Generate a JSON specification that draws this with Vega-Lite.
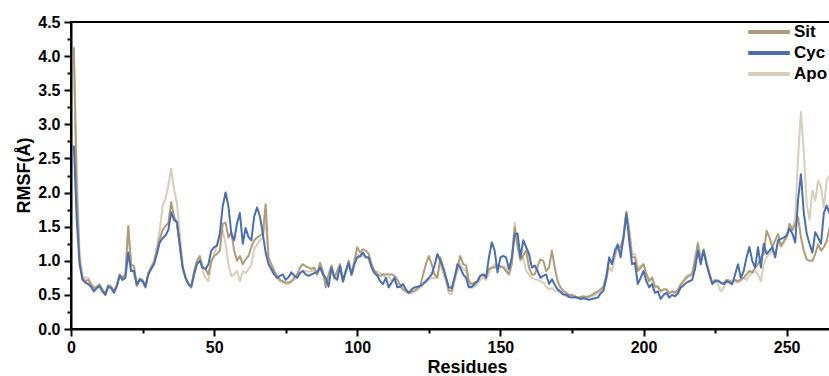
{"$schema":"https://vega.github.io/schema/vega-lite/v6.json","width":760,"height":307,"autosize":{"type":"none"},"padding":{"left":71,"top":22,"right":0,"bottom":47},"background":"white","config":{"view":{"stroke":"black","strokeWidth":2},"font":"Liberation Sans"},
"data":{"values":[
{"r":1,"s":"Apo","v":4.0},{"r":2,"s":"Apo","v":2.4},{"r":3,"s":"Apo","v":1.1},{"r":4,"s":"Apo","v":0.78},{"r":5,"s":"Apo","v":0.75},{"r":6,"s":"Apo","v":0.75},{"r":7,"s":"Apo","v":0.68},{"r":8,"s":"Apo","v":0.6},{"r":9,"s":"Apo","v":0.62},{"r":10,"s":"Apo","v":0.66},{"r":11,"s":"Apo","v":0.58},{"r":12,"s":"Apo","v":0.52},{"r":13,"s":"Apo","v":0.64},{"r":14,"s":"Apo","v":0.63},{"r":15,"s":"Apo","v":0.56},{"r":16,"s":"Apo","v":0.65},{"r":17,"s":"Apo","v":0.8},{"r":18,"s":"Apo","v":0.76},{"r":19,"s":"Apo","v":0.8},{"r":20,"s":"Apo","v":1.48},{"r":21,"s":"Apo","v":0.9},{"r":22,"s":"Apo","v":0.8},{"r":23,"s":"Apo","v":0.62},{"r":24,"s":"Apo","v":0.72},{"r":25,"s":"Apo","v":0.7},{"r":26,"s":"Apo","v":0.6},{"r":27,"s":"Apo","v":0.8},{"r":28,"s":"Apo","v":0.92},{"r":29,"s":"Apo","v":1.0},{"r":30,"s":"Apo","v":1.2},{"r":31,"s":"Apo","v":1.45},{"r":32,"s":"Apo","v":1.8},{"r":33,"s":"Apo","v":1.91},{"r":34,"s":"Apo","v":2.1},{"r":35,"s":"Apo","v":2.35},{"r":36,"s":"Apo","v":2.05},{"r":37,"s":"Apo","v":1.85},{"r":38,"s":"Apo","v":1.4},{"r":39,"s":"Apo","v":0.95},{"r":40,"s":"Apo","v":0.75},{"r":41,"s":"Apo","v":0.66},{"r":42,"s":"Apo","v":0.6},{"r":43,"s":"Apo","v":0.8},{"r":44,"s":"Apo","v":0.98},{"r":45,"s":"Apo","v":1.02},{"r":46,"s":"Apo","v":0.85},{"r":47,"s":"Apo","v":0.75},{"r":48,"s":"Apo","v":0.7},{"r":49,"s":"Apo","v":0.95},{"r":50,"s":"Apo","v":1.1},{"r":51,"s":"Apo","v":1.24},{"r":52,"s":"Apo","v":1.35},{"r":53,"s":"Apo","v":1.44},{"r":54,"s":"Apo","v":1.25},{"r":55,"s":"Apo","v":0.95},{"r":56,"s":"Apo","v":0.78},{"r":57,"s":"Apo","v":0.8},{"r":58,"s":"Apo","v":0.85},{"r":59,"s":"Apo","v":0.7},{"r":60,"s":"Apo","v":0.85},{"r":61,"s":"Apo","v":0.82},{"r":62,"s":"Apo","v":0.88},{"r":63,"s":"Apo","v":0.95},{"r":64,"s":"Apo","v":1.17},{"r":65,"s":"Apo","v":1.24},{"r":66,"s":"Apo","v":1.3},{"r":67,"s":"Apo","v":1.34},{"r":68,"s":"Apo","v":1.6},{"r":69,"s":"Apo","v":1.0},{"r":70,"s":"Apo","v":0.85},{"r":71,"s":"Apo","v":0.8},{"r":72,"s":"Apo","v":0.75},{"r":73,"s":"Apo","v":0.7},{"r":74,"s":"Apo","v":0.68},{"r":75,"s":"Apo","v":0.66},{"r":76,"s":"Apo","v":0.66},{"r":77,"s":"Apo","v":0.7},{"r":78,"s":"Apo","v":0.72},{"r":79,"s":"Apo","v":0.78},{"r":80,"s":"Apo","v":0.82},{"r":81,"s":"Apo","v":0.85},{"r":82,"s":"Apo","v":0.85},{"r":83,"s":"Apo","v":0.84},{"r":84,"s":"Apo","v":0.85},{"r":85,"s":"Apo","v":0.86},{"r":86,"s":"Apo","v":0.78},{"r":87,"s":"Apo","v":0.92},{"r":88,"s":"Apo","v":0.82},{"r":89,"s":"Apo","v":0.62},{"r":90,"s":"Apo","v":0.78},{"r":91,"s":"Apo","v":0.88},{"r":92,"s":"Apo","v":0.72},{"r":93,"s":"Apo","v":0.82},{"r":94,"s":"Apo","v":0.9},{"r":95,"s":"Apo","v":0.68},{"r":96,"s":"Apo","v":0.82},{"r":97,"s":"Apo","v":0.95},{"r":98,"s":"Apo","v":0.78},{"r":99,"s":"Apo","v":0.95},{"r":100,"s":"Apo","v":1.1},{"r":101,"s":"Apo","v":1.05},{"r":102,"s":"Apo","v":1.08},{"r":103,"s":"Apo","v":1.05},{"r":104,"s":"Apo","v":1.02},{"r":105,"s":"Apo","v":0.92},{"r":106,"s":"Apo","v":0.86},{"r":107,"s":"Apo","v":0.84},{"r":108,"s":"Apo","v":0.82},{"r":109,"s":"Apo","v":0.8},{"r":110,"s":"Apo","v":0.75},{"r":111,"s":"Apo","v":0.76},{"r":112,"s":"Apo","v":0.72},{"r":113,"s":"Apo","v":0.7},{"r":114,"s":"Apo","v":0.66},{"r":115,"s":"Apo","v":0.62},{"r":116,"s":"Apo","v":0.58},{"r":117,"s":"Apo","v":0.55},{"r":118,"s":"Apo","v":0.52},{"r":119,"s":"Apo","v":0.53},{"r":120,"s":"Apo","v":0.55},{"r":121,"s":"Apo","v":0.57},{"r":122,"s":"Apo","v":0.6},{"r":123,"s":"Apo","v":0.68},{"r":124,"s":"Apo","v":0.7},{"r":125,"s":"Apo","v":0.72},{"r":126,"s":"Apo","v":0.75},{"r":127,"s":"Apo","v":0.74},{"r":128,"s":"Apo","v":0.8},{"r":129,"s":"Apo","v":0.95},{"r":130,"s":"Apo","v":0.82},{"r":131,"s":"Apo","v":0.7},{"r":132,"s":"Apo","v":0.52},{"r":133,"s":"Apo","v":0.51},{"r":134,"s":"Apo","v":0.7},{"r":135,"s":"Apo","v":0.85},{"r":136,"s":"Apo","v":0.95},{"r":137,"s":"Apo","v":0.88},{"r":138,"s":"Apo","v":0.85},{"r":139,"s":"Apo","v":0.65},{"r":140,"s":"Apo","v":0.6},{"r":141,"s":"Apo","v":0.62},{"r":142,"s":"Apo","v":0.66},{"r":143,"s":"Apo","v":0.72},{"r":144,"s":"Apo","v":0.75},{"r":145,"s":"Apo","v":0.72},{"r":146,"s":"Apo","v":0.82},{"r":147,"s":"Apo","v":0.9},{"r":148,"s":"Apo","v":0.95},{"r":149,"s":"Apo","v":0.88},{"r":150,"s":"Apo","v":0.9},{"r":151,"s":"Apo","v":0.92},{"r":152,"s":"Apo","v":0.9},{"r":153,"s":"Apo","v":0.8},{"r":154,"s":"Apo","v":1.05},{"r":155,"s":"Apo","v":1.56},{"r":156,"s":"Apo","v":1.25},{"r":157,"s":"Apo","v":1.0},{"r":158,"s":"Apo","v":1.05},{"r":159,"s":"Apo","v":0.85},{"r":160,"s":"Apo","v":0.8},{"r":161,"s":"Apo","v":0.75},{"r":162,"s":"Apo","v":0.73},{"r":163,"s":"Apo","v":0.72},{"r":164,"s":"Apo","v":0.7},{"r":165,"s":"Apo","v":0.68},{"r":166,"s":"Apo","v":0.62},{"r":167,"s":"Apo","v":0.58},{"r":168,"s":"Apo","v":0.6},{"r":169,"s":"Apo","v":0.56},{"r":170,"s":"Apo","v":0.55},{"r":171,"s":"Apo","v":0.53},{"r":172,"s":"Apo","v":0.5},{"r":173,"s":"Apo","v":0.48},{"r":174,"s":"Apo","v":0.47},{"r":175,"s":"Apo","v":0.47},{"r":176,"s":"Apo","v":0.46},{"r":177,"s":"Apo","v":0.45},{"r":178,"s":"Apo","v":0.46},{"r":179,"s":"Apo","v":0.47},{"r":180,"s":"Apo","v":0.46},{"r":181,"s":"Apo","v":0.47},{"r":182,"s":"Apo","v":0.48},{"r":183,"s":"Apo","v":0.5},{"r":184,"s":"Apo","v":0.52},{"r":185,"s":"Apo","v":0.56},{"r":186,"s":"Apo","v":0.6},{"r":187,"s":"Apo","v":0.72},{"r":188,"s":"Apo","v":0.9},{"r":189,"s":"Apo","v":0.85},{"r":190,"s":"Apo","v":1.05},{"r":191,"s":"Apo","v":1.2},{"r":192,"s":"Apo","v":1.15},{"r":193,"s":"Apo","v":1.3},{"r":194,"s":"Apo","v":1.72},{"r":195,"s":"Apo","v":1.5},{"r":196,"s":"Apo","v":1.1},{"r":197,"s":"Apo","v":1.1},{"r":198,"s":"Apo","v":0.9},{"r":199,"s":"Apo","v":0.92},{"r":200,"s":"Apo","v":0.95},{"r":201,"s":"Apo","v":0.82},{"r":202,"s":"Apo","v":0.72},{"r":203,"s":"Apo","v":0.76},{"r":204,"s":"Apo","v":0.63},{"r":205,"s":"Apo","v":0.63},{"r":206,"s":"Apo","v":0.55},{"r":207,"s":"Apo","v":0.58},{"r":208,"s":"Apo","v":0.59},{"r":209,"s":"Apo","v":0.53},{"r":210,"s":"Apo","v":0.55},{"r":211,"s":"Apo","v":0.54},{"r":212,"s":"Apo","v":0.58},{"r":213,"s":"Apo","v":0.66},{"r":214,"s":"Apo","v":0.72},{"r":215,"s":"Apo","v":0.78},{"r":216,"s":"Apo","v":0.8},{"r":217,"s":"Apo","v":0.82},{"r":218,"s":"Apo","v":1.05},{"r":219,"s":"Apo","v":1.27},{"r":220,"s":"Apo","v":1.05},{"r":221,"s":"Apo","v":1.18},{"r":222,"s":"Apo","v":1.0},{"r":223,"s":"Apo","v":0.82},{"r":224,"s":"Apo","v":0.68},{"r":225,"s":"Apo","v":0.7},{"r":226,"s":"Apo","v":0.65},{"r":227,"s":"Apo","v":0.55},{"r":228,"s":"Apo","v":0.6},{"r":229,"s":"Apo","v":0.7},{"r":230,"s":"Apo","v":0.72},{"r":231,"s":"Apo","v":0.7},{"r":232,"s":"Apo","v":0.7},{"r":233,"s":"Apo","v":0.68},{"r":234,"s":"Apo","v":0.7},{"r":235,"s":"Apo","v":0.75},{"r":236,"s":"Apo","v":0.72},{"r":237,"s":"Apo","v":0.78},{"r":238,"s":"Apo","v":0.82},{"r":239,"s":"Apo","v":0.85},{"r":240,"s":"Apo","v":0.8},{"r":241,"s":"Apo","v":0.7},{"r":242,"s":"Apo","v":0.95},{"r":243,"s":"Apo","v":1.05},{"r":244,"s":"Apo","v":1.1},{"r":245,"s":"Apo","v":1.15},{"r":246,"s":"Apo","v":1.1},{"r":247,"s":"Apo","v":1.29},{"r":248,"s":"Apo","v":1.2},{"r":249,"s":"Apo","v":1.25},{"r":250,"s":"Apo","v":1.35},{"r":251,"s":"Apo","v":1.54},{"r":252,"s":"Apo","v":1.45},{"r":253,"s":"Apo","v":1.64},{"r":254,"s":"Apo","v":2.52},{"r":255,"s":"Apo","v":3.18},{"r":256,"s":"Apo","v":2.6},{"r":257,"s":"Apo","v":1.83},{"r":258,"s":"Apo","v":1.6},{"r":259,"s":"Apo","v":2.03},{"r":260,"s":"Apo","v":1.88},{"r":261,"s":"Apo","v":2.18},{"r":262,"s":"Apo","v":2.08},{"r":263,"s":"Apo","v":1.78},{"r":264,"s":"Apo","v":2.18},{"r":265,"s":"Apo","v":2.25},
{"r":1,"s":"Sit","v":4.13},{"r":2,"s":"Sit","v":2.0},{"r":3,"s":"Sit","v":1.0},{"r":4,"s":"Sit","v":0.75},{"r":5,"s":"Sit","v":0.7},{"r":6,"s":"Sit","v":0.72},{"r":7,"s":"Sit","v":0.65},{"r":8,"s":"Sit","v":0.6},{"r":9,"s":"Sit","v":0.62},{"r":10,"s":"Sit","v":0.65},{"r":11,"s":"Sit","v":0.57},{"r":12,"s":"Sit","v":0.52},{"r":13,"s":"Sit","v":0.64},{"r":14,"s":"Sit","v":0.62},{"r":15,"s":"Sit","v":0.55},{"r":16,"s":"Sit","v":0.64},{"r":17,"s":"Sit","v":0.8},{"r":18,"s":"Sit","v":0.75},{"r":19,"s":"Sit","v":0.8},{"r":20,"s":"Sit","v":1.51},{"r":21,"s":"Sit","v":0.95},{"r":22,"s":"Sit","v":0.92},{"r":23,"s":"Sit","v":0.64},{"r":24,"s":"Sit","v":0.74},{"r":25,"s":"Sit","v":0.72},{"r":26,"s":"Sit","v":0.62},{"r":27,"s":"Sit","v":0.82},{"r":28,"s":"Sit","v":0.9},{"r":29,"s":"Sit","v":0.98},{"r":30,"s":"Sit","v":1.15},{"r":31,"s":"Sit","v":1.32},{"r":32,"s":"Sit","v":1.45},{"r":33,"s":"Sit","v":1.51},{"r":34,"s":"Sit","v":1.55},{"r":35,"s":"Sit","v":1.86},{"r":36,"s":"Sit","v":1.65},{"r":37,"s":"Sit","v":1.55},{"r":38,"s":"Sit","v":1.2},{"r":39,"s":"Sit","v":0.9},{"r":40,"s":"Sit","v":0.75},{"r":41,"s":"Sit","v":0.66},{"r":42,"s":"Sit","v":0.62},{"r":43,"s":"Sit","v":0.85},{"r":44,"s":"Sit","v":1.0},{"r":45,"s":"Sit","v":1.07},{"r":46,"s":"Sit","v":0.9},{"r":47,"s":"Sit","v":0.88},{"r":48,"s":"Sit","v":0.8},{"r":49,"s":"Sit","v":1.0},{"r":50,"s":"Sit","v":1.07},{"r":51,"s":"Sit","v":1.1},{"r":52,"s":"Sit","v":1.15},{"r":53,"s":"Sit","v":1.54},{"r":54,"s":"Sit","v":1.56},{"r":55,"s":"Sit","v":1.34},{"r":56,"s":"Sit","v":1.42},{"r":57,"s":"Sit","v":1.15},{"r":58,"s":"Sit","v":1.0},{"r":59,"s":"Sit","v":1.07},{"r":60,"s":"Sit","v":0.95},{"r":61,"s":"Sit","v":1.02},{"r":62,"s":"Sit","v":1.07},{"r":63,"s":"Sit","v":1.2},{"r":64,"s":"Sit","v":1.3},{"r":65,"s":"Sit","v":1.34},{"r":66,"s":"Sit","v":1.37},{"r":67,"s":"Sit","v":1.4},{"r":68,"s":"Sit","v":1.83},{"r":69,"s":"Sit","v":1.05},{"r":70,"s":"Sit","v":0.95},{"r":71,"s":"Sit","v":0.85},{"r":72,"s":"Sit","v":0.78},{"r":73,"s":"Sit","v":0.72},{"r":74,"s":"Sit","v":0.7},{"r":75,"s":"Sit","v":0.68},{"r":76,"s":"Sit","v":0.68},{"r":77,"s":"Sit","v":0.7},{"r":78,"s":"Sit","v":0.75},{"r":79,"s":"Sit","v":0.8},{"r":80,"s":"Sit","v":0.9},{"r":81,"s":"Sit","v":0.95},{"r":82,"s":"Sit","v":0.92},{"r":83,"s":"Sit","v":0.9},{"r":84,"s":"Sit","v":0.88},{"r":85,"s":"Sit","v":0.9},{"r":86,"s":"Sit","v":0.8},{"r":87,"s":"Sit","v":0.97},{"r":88,"s":"Sit","v":0.85},{"r":89,"s":"Sit","v":0.61},{"r":90,"s":"Sit","v":0.8},{"r":91,"s":"Sit","v":0.93},{"r":92,"s":"Sit","v":0.75},{"r":93,"s":"Sit","v":0.85},{"r":94,"s":"Sit","v":0.95},{"r":95,"s":"Sit","v":0.7},{"r":96,"s":"Sit","v":0.85},{"r":97,"s":"Sit","v":1.0},{"r":98,"s":"Sit","v":0.8},{"r":99,"s":"Sit","v":1.0},{"r":100,"s":"Sit","v":1.2},{"r":101,"s":"Sit","v":1.12},{"r":102,"s":"Sit","v":1.17},{"r":103,"s":"Sit","v":1.15},{"r":104,"s":"Sit","v":1.1},{"r":105,"s":"Sit","v":0.95},{"r":106,"s":"Sit","v":0.85},{"r":107,"s":"Sit","v":0.8},{"r":108,"s":"Sit","v":0.78},{"r":109,"s":"Sit","v":0.8},{"r":110,"s":"Sit","v":0.8},{"r":111,"s":"Sit","v":0.8},{"r":112,"s":"Sit","v":0.8},{"r":113,"s":"Sit","v":0.78},{"r":114,"s":"Sit","v":0.72},{"r":115,"s":"Sit","v":0.65},{"r":116,"s":"Sit","v":0.58},{"r":117,"s":"Sit","v":0.55},{"r":118,"s":"Sit","v":0.53},{"r":119,"s":"Sit","v":0.55},{"r":120,"s":"Sit","v":0.56},{"r":121,"s":"Sit","v":0.6},{"r":122,"s":"Sit","v":0.63},{"r":123,"s":"Sit","v":0.8},{"r":124,"s":"Sit","v":0.95},{"r":125,"s":"Sit","v":1.07},{"r":126,"s":"Sit","v":0.95},{"r":127,"s":"Sit","v":0.8},{"r":128,"s":"Sit","v":0.75},{"r":129,"s":"Sit","v":1.05},{"r":130,"s":"Sit","v":0.9},{"r":131,"s":"Sit","v":0.75},{"r":132,"s":"Sit","v":0.56},{"r":133,"s":"Sit","v":0.56},{"r":134,"s":"Sit","v":0.75},{"r":135,"s":"Sit","v":0.9},{"r":136,"s":"Sit","v":1.07},{"r":137,"s":"Sit","v":0.95},{"r":138,"s":"Sit","v":0.93},{"r":139,"s":"Sit","v":0.7},{"r":140,"s":"Sit","v":0.66},{"r":141,"s":"Sit","v":0.68},{"r":142,"s":"Sit","v":0.7},{"r":143,"s":"Sit","v":0.78},{"r":144,"s":"Sit","v":0.8},{"r":145,"s":"Sit","v":0.78},{"r":146,"s":"Sit","v":0.88},{"r":147,"s":"Sit","v":0.9},{"r":148,"s":"Sit","v":0.9},{"r":149,"s":"Sit","v":0.93},{"r":150,"s":"Sit","v":0.92},{"r":151,"s":"Sit","v":0.9},{"r":152,"s":"Sit","v":0.85},{"r":153,"s":"Sit","v":0.8},{"r":154,"s":"Sit","v":0.95},{"r":155,"s":"Sit","v":1.49},{"r":156,"s":"Sit","v":1.2},{"r":157,"s":"Sit","v":1.02},{"r":158,"s":"Sit","v":1.08},{"r":159,"s":"Sit","v":1.15},{"r":160,"s":"Sit","v":0.9},{"r":161,"s":"Sit","v":0.8},{"r":162,"s":"Sit","v":0.8},{"r":163,"s":"Sit","v":0.92},{"r":164,"s":"Sit","v":1.02},{"r":165,"s":"Sit","v":1.0},{"r":166,"s":"Sit","v":0.85},{"r":167,"s":"Sit","v":0.9},{"r":168,"s":"Sit","v":1.15},{"r":169,"s":"Sit","v":0.9},{"r":170,"s":"Sit","v":0.7},{"r":171,"s":"Sit","v":0.61},{"r":172,"s":"Sit","v":0.56},{"r":173,"s":"Sit","v":0.53},{"r":174,"s":"Sit","v":0.5},{"r":175,"s":"Sit","v":0.5},{"r":176,"s":"Sit","v":0.48},{"r":177,"s":"Sit","v":0.46},{"r":178,"s":"Sit","v":0.47},{"r":179,"s":"Sit","v":0.48},{"r":180,"s":"Sit","v":0.47},{"r":181,"s":"Sit","v":0.48},{"r":182,"s":"Sit","v":0.5},{"r":183,"s":"Sit","v":0.53},{"r":184,"s":"Sit","v":0.55},{"r":185,"s":"Sit","v":0.58},{"r":186,"s":"Sit","v":0.62},{"r":187,"s":"Sit","v":0.78},{"r":188,"s":"Sit","v":1.0},{"r":189,"s":"Sit","v":0.98},{"r":190,"s":"Sit","v":1.1},{"r":191,"s":"Sit","v":1.22},{"r":192,"s":"Sit","v":1.2},{"r":193,"s":"Sit","v":1.35},{"r":194,"s":"Sit","v":1.72},{"r":195,"s":"Sit","v":1.4},{"r":196,"s":"Sit","v":1.05},{"r":197,"s":"Sit","v":1.05},{"r":198,"s":"Sit","v":0.85},{"r":199,"s":"Sit","v":0.9},{"r":200,"s":"Sit","v":0.95},{"r":201,"s":"Sit","v":0.8},{"r":202,"s":"Sit","v":0.7},{"r":203,"s":"Sit","v":0.75},{"r":204,"s":"Sit","v":0.62},{"r":205,"s":"Sit","v":0.62},{"r":206,"s":"Sit","v":0.55},{"r":207,"s":"Sit","v":0.58},{"r":208,"s":"Sit","v":0.58},{"r":209,"s":"Sit","v":0.52},{"r":210,"s":"Sit","v":0.55},{"r":211,"s":"Sit","v":0.53},{"r":212,"s":"Sit","v":0.57},{"r":213,"s":"Sit","v":0.65},{"r":214,"s":"Sit","v":0.7},{"r":215,"s":"Sit","v":0.75},{"r":216,"s":"Sit","v":0.78},{"r":217,"s":"Sit","v":0.8},{"r":218,"s":"Sit","v":1.0},{"r":219,"s":"Sit","v":1.25},{"r":220,"s":"Sit","v":1.0},{"r":221,"s":"Sit","v":1.15},{"r":222,"s":"Sit","v":0.97},{"r":223,"s":"Sit","v":0.82},{"r":224,"s":"Sit","v":0.68},{"r":225,"s":"Sit","v":0.72},{"r":226,"s":"Sit","v":0.7},{"r":227,"s":"Sit","v":0.68},{"r":228,"s":"Sit","v":0.66},{"r":229,"s":"Sit","v":0.72},{"r":230,"s":"Sit","v":0.7},{"r":231,"s":"Sit","v":0.68},{"r":232,"s":"Sit","v":0.72},{"r":233,"s":"Sit","v":0.7},{"r":234,"s":"Sit","v":0.73},{"r":235,"s":"Sit","v":0.75},{"r":236,"s":"Sit","v":0.8},{"r":237,"s":"Sit","v":0.85},{"r":238,"s":"Sit","v":0.83},{"r":239,"s":"Sit","v":0.9},{"r":240,"s":"Sit","v":0.95},{"r":241,"s":"Sit","v":1.05},{"r":242,"s":"Sit","v":1.1},{"r":243,"s":"Sit","v":1.44},{"r":244,"s":"Sit","v":1.34},{"r":245,"s":"Sit","v":1.2},{"r":246,"s":"Sit","v":1.3},{"r":247,"s":"Sit","v":1.39},{"r":248,"s":"Sit","v":1.22},{"r":249,"s":"Sit","v":1.29},{"r":250,"s":"Sit","v":1.35},{"r":251,"s":"Sit","v":1.54},{"r":252,"s":"Sit","v":1.45},{"r":253,"s":"Sit","v":1.54},{"r":254,"s":"Sit","v":1.64},{"r":255,"s":"Sit","v":1.34},{"r":256,"s":"Sit","v":1.15},{"r":257,"s":"Sit","v":1.02},{"r":258,"s":"Sit","v":1.0},{"r":259,"s":"Sit","v":1.0},{"r":260,"s":"Sit","v":1.1},{"r":261,"s":"Sit","v":1.24},{"r":262,"s":"Sit","v":1.15},{"r":263,"s":"Sit","v":1.2},{"r":264,"s":"Sit","v":1.29},{"r":265,"s":"Sit","v":1.49},
{"r":1,"s":"Cyc","v":2.69},{"r":2,"s":"Cyc","v":1.6},{"r":3,"s":"Cyc","v":0.95},{"r":4,"s":"Cyc","v":0.72},{"r":5,"s":"Cyc","v":0.68},{"r":6,"s":"Cyc","v":0.66},{"r":7,"s":"Cyc","v":0.62},{"r":8,"s":"Cyc","v":0.55},{"r":9,"s":"Cyc","v":0.6},{"r":10,"s":"Cyc","v":0.63},{"r":11,"s":"Cyc","v":0.55},{"r":12,"s":"Cyc","v":0.5},{"r":13,"s":"Cyc","v":0.62},{"r":14,"s":"Cyc","v":0.6},{"r":15,"s":"Cyc","v":0.53},{"r":16,"s":"Cyc","v":0.62},{"r":17,"s":"Cyc","v":0.78},{"r":18,"s":"Cyc","v":0.72},{"r":19,"s":"Cyc","v":0.75},{"r":20,"s":"Cyc","v":1.12},{"r":21,"s":"Cyc","v":0.85},{"r":22,"s":"Cyc","v":0.85},{"r":23,"s":"Cyc","v":0.65},{"r":24,"s":"Cyc","v":0.72},{"r":25,"s":"Cyc","v":0.7},{"r":26,"s":"Cyc","v":0.62},{"r":27,"s":"Cyc","v":0.8},{"r":28,"s":"Cyc","v":0.88},{"r":29,"s":"Cyc","v":0.95},{"r":30,"s":"Cyc","v":1.1},{"r":31,"s":"Cyc","v":1.27},{"r":32,"s":"Cyc","v":1.33},{"r":33,"s":"Cyc","v":1.37},{"r":34,"s":"Cyc","v":1.45},{"r":35,"s":"Cyc","v":1.71},{"r":36,"s":"Cyc","v":1.6},{"r":37,"s":"Cyc","v":1.57},{"r":38,"s":"Cyc","v":1.25},{"r":39,"s":"Cyc","v":0.9},{"r":40,"s":"Cyc","v":0.75},{"r":41,"s":"Cyc","v":0.66},{"r":42,"s":"Cyc","v":0.62},{"r":43,"s":"Cyc","v":0.8},{"r":44,"s":"Cyc","v":0.95},{"r":45,"s":"Cyc","v":1.0},{"r":46,"s":"Cyc","v":0.9},{"r":47,"s":"Cyc","v":0.88},{"r":48,"s":"Cyc","v":0.95},{"r":49,"s":"Cyc","v":1.15},{"r":50,"s":"Cyc","v":1.2},{"r":51,"s":"Cyc","v":1.22},{"r":52,"s":"Cyc","v":1.4},{"r":53,"s":"Cyc","v":1.8},{"r":54,"s":"Cyc","v":2.0},{"r":55,"s":"Cyc","v":1.8},{"r":56,"s":"Cyc","v":1.4},{"r":57,"s":"Cyc","v":1.3},{"r":58,"s":"Cyc","v":1.55},{"r":59,"s":"Cyc","v":1.7},{"r":60,"s":"Cyc","v":1.25},{"r":61,"s":"Cyc","v":1.48},{"r":62,"s":"Cyc","v":1.35},{"r":63,"s":"Cyc","v":1.3},{"r":64,"s":"Cyc","v":1.65},{"r":65,"s":"Cyc","v":1.78},{"r":66,"s":"Cyc","v":1.65},{"r":67,"s":"Cyc","v":1.4},{"r":68,"s":"Cyc","v":1.12},{"r":69,"s":"Cyc","v":0.95},{"r":70,"s":"Cyc","v":0.88},{"r":71,"s":"Cyc","v":0.8},{"r":72,"s":"Cyc","v":0.75},{"r":73,"s":"Cyc","v":0.78},{"r":74,"s":"Cyc","v":0.8},{"r":75,"s":"Cyc","v":0.72},{"r":76,"s":"Cyc","v":0.76},{"r":77,"s":"Cyc","v":0.83},{"r":78,"s":"Cyc","v":0.78},{"r":79,"s":"Cyc","v":0.75},{"r":80,"s":"Cyc","v":0.82},{"r":81,"s":"Cyc","v":0.85},{"r":82,"s":"Cyc","v":0.8},{"r":83,"s":"Cyc","v":0.78},{"r":84,"s":"Cyc","v":0.8},{"r":85,"s":"Cyc","v":0.82},{"r":86,"s":"Cyc","v":0.83},{"r":87,"s":"Cyc","v":0.9},{"r":88,"s":"Cyc","v":0.8},{"r":89,"s":"Cyc","v":0.75},{"r":90,"s":"Cyc","v":0.62},{"r":91,"s":"Cyc","v":0.9},{"r":92,"s":"Cyc","v":0.76},{"r":93,"s":"Cyc","v":0.72},{"r":94,"s":"Cyc","v":0.92},{"r":95,"s":"Cyc","v":0.7},{"r":96,"s":"Cyc","v":0.85},{"r":97,"s":"Cyc","v":0.97},{"r":98,"s":"Cyc","v":0.8},{"r":99,"s":"Cyc","v":0.95},{"r":100,"s":"Cyc","v":1.05},{"r":101,"s":"Cyc","v":1.07},{"r":102,"s":"Cyc","v":1.12},{"r":103,"s":"Cyc","v":1.05},{"r":104,"s":"Cyc","v":1.05},{"r":105,"s":"Cyc","v":0.9},{"r":106,"s":"Cyc","v":0.82},{"r":107,"s":"Cyc","v":0.78},{"r":108,"s":"Cyc","v":0.7},{"r":109,"s":"Cyc","v":0.66},{"r":110,"s":"Cyc","v":0.75},{"r":111,"s":"Cyc","v":0.61},{"r":112,"s":"Cyc","v":0.68},{"r":113,"s":"Cyc","v":0.75},{"r":114,"s":"Cyc","v":0.61},{"r":115,"s":"Cyc","v":0.62},{"r":116,"s":"Cyc","v":0.66},{"r":117,"s":"Cyc","v":0.58},{"r":118,"s":"Cyc","v":0.53},{"r":119,"s":"Cyc","v":0.58},{"r":120,"s":"Cyc","v":0.61},{"r":121,"s":"Cyc","v":0.62},{"r":122,"s":"Cyc","v":0.63},{"r":123,"s":"Cyc","v":0.66},{"r":124,"s":"Cyc","v":0.7},{"r":125,"s":"Cyc","v":0.75},{"r":126,"s":"Cyc","v":0.8},{"r":127,"s":"Cyc","v":0.93},{"r":128,"s":"Cyc","v":1.1},{"r":129,"s":"Cyc","v":1.0},{"r":130,"s":"Cyc","v":0.9},{"r":131,"s":"Cyc","v":0.75},{"r":132,"s":"Cyc","v":0.61},{"r":133,"s":"Cyc","v":0.6},{"r":134,"s":"Cyc","v":0.75},{"r":135,"s":"Cyc","v":0.95},{"r":136,"s":"Cyc","v":0.9},{"r":137,"s":"Cyc","v":0.8},{"r":138,"s":"Cyc","v":0.75},{"r":139,"s":"Cyc","v":0.61},{"r":140,"s":"Cyc","v":0.62},{"r":141,"s":"Cyc","v":0.66},{"r":142,"s":"Cyc","v":0.7},{"r":143,"s":"Cyc","v":0.78},{"r":144,"s":"Cyc","v":0.8},{"r":145,"s":"Cyc","v":0.75},{"r":146,"s":"Cyc","v":1.05},{"r":147,"s":"Cyc","v":1.27},{"r":148,"s":"Cyc","v":1.15},{"r":149,"s":"Cyc","v":0.83},{"r":150,"s":"Cyc","v":1.05},{"r":151,"s":"Cyc","v":1.07},{"r":152,"s":"Cyc","v":1.05},{"r":153,"s":"Cyc","v":0.88},{"r":154,"s":"Cyc","v":1.05},{"r":155,"s":"Cyc","v":1.39},{"r":156,"s":"Cyc","v":1.4},{"r":157,"s":"Cyc","v":1.05},{"r":158,"s":"Cyc","v":1.3},{"r":159,"s":"Cyc","v":1.2},{"r":160,"s":"Cyc","v":1.1},{"r":161,"s":"Cyc","v":0.9},{"r":162,"s":"Cyc","v":0.93},{"r":163,"s":"Cyc","v":0.85},{"r":164,"s":"Cyc","v":0.75},{"r":165,"s":"Cyc","v":0.78},{"r":166,"s":"Cyc","v":0.8},{"r":167,"s":"Cyc","v":0.66},{"r":168,"s":"Cyc","v":0.73},{"r":169,"s":"Cyc","v":0.65},{"r":170,"s":"Cyc","v":0.58},{"r":171,"s":"Cyc","v":0.55},{"r":172,"s":"Cyc","v":0.51},{"r":173,"s":"Cyc","v":0.5},{"r":174,"s":"Cyc","v":0.47},{"r":175,"s":"Cyc","v":0.46},{"r":176,"s":"Cyc","v":0.47},{"r":177,"s":"Cyc","v":0.46},{"r":178,"s":"Cyc","v":0.44},{"r":179,"s":"Cyc","v":0.45},{"r":180,"s":"Cyc","v":0.44},{"r":181,"s":"Cyc","v":0.43},{"r":182,"s":"Cyc","v":0.44},{"r":183,"s":"Cyc","v":0.45},{"r":184,"s":"Cyc","v":0.46},{"r":185,"s":"Cyc","v":0.52},{"r":186,"s":"Cyc","v":0.56},{"r":187,"s":"Cyc","v":0.75},{"r":188,"s":"Cyc","v":1.05},{"r":189,"s":"Cyc","v":0.95},{"r":190,"s":"Cyc","v":1.15},{"r":191,"s":"Cyc","v":1.24},{"r":192,"s":"Cyc","v":1.05},{"r":193,"s":"Cyc","v":1.34},{"r":194,"s":"Cyc","v":1.69},{"r":195,"s":"Cyc","v":1.3},{"r":196,"s":"Cyc","v":0.95},{"r":197,"s":"Cyc","v":0.97},{"r":198,"s":"Cyc","v":0.66},{"r":199,"s":"Cyc","v":0.75},{"r":200,"s":"Cyc","v":0.85},{"r":201,"s":"Cyc","v":0.7},{"r":202,"s":"Cyc","v":0.61},{"r":203,"s":"Cyc","v":0.66},{"r":204,"s":"Cyc","v":0.53},{"r":205,"s":"Cyc","v":0.55},{"r":206,"s":"Cyc","v":0.44},{"r":207,"s":"Cyc","v":0.5},{"r":208,"s":"Cyc","v":0.53},{"r":209,"s":"Cyc","v":0.46},{"r":210,"s":"Cyc","v":0.5},{"r":211,"s":"Cyc","v":0.48},{"r":212,"s":"Cyc","v":0.52},{"r":213,"s":"Cyc","v":0.61},{"r":214,"s":"Cyc","v":0.64},{"r":215,"s":"Cyc","v":0.68},{"r":216,"s":"Cyc","v":0.7},{"r":217,"s":"Cyc","v":0.72},{"r":218,"s":"Cyc","v":0.88},{"r":219,"s":"Cyc","v":1.15},{"r":220,"s":"Cyc","v":0.95},{"r":221,"s":"Cyc","v":1.15},{"r":222,"s":"Cyc","v":0.95},{"r":223,"s":"Cyc","v":0.8},{"r":224,"s":"Cyc","v":0.66},{"r":225,"s":"Cyc","v":0.7},{"r":226,"s":"Cyc","v":0.71},{"r":227,"s":"Cyc","v":0.68},{"r":228,"s":"Cyc","v":0.66},{"r":229,"s":"Cyc","v":0.7},{"r":230,"s":"Cyc","v":0.68},{"r":231,"s":"Cyc","v":0.66},{"r":232,"s":"Cyc","v":0.8},{"r":233,"s":"Cyc","v":0.95},{"r":234,"s":"Cyc","v":0.75},{"r":235,"s":"Cyc","v":0.85},{"r":236,"s":"Cyc","v":1.05},{"r":237,"s":"Cyc","v":1.2},{"r":238,"s":"Cyc","v":1.0},{"r":239,"s":"Cyc","v":0.9},{"r":240,"s":"Cyc","v":1.2},{"r":241,"s":"Cyc","v":0.9},{"r":242,"s":"Cyc","v":1.25},{"r":243,"s":"Cyc","v":1.1},{"r":244,"s":"Cyc","v":1.15},{"r":245,"s":"Cyc","v":1.2},{"r":246,"s":"Cyc","v":1.05},{"r":247,"s":"Cyc","v":1.3},{"r":248,"s":"Cyc","v":1.32},{"r":249,"s":"Cyc","v":1.34},{"r":250,"s":"Cyc","v":1.37},{"r":251,"s":"Cyc","v":1.47},{"r":252,"s":"Cyc","v":1.4},{"r":253,"s":"Cyc","v":1.27},{"r":254,"s":"Cyc","v":1.9},{"r":255,"s":"Cyc","v":2.27},{"r":256,"s":"Cyc","v":1.7},{"r":257,"s":"Cyc","v":1.4},{"r":258,"s":"Cyc","v":1.25},{"r":259,"s":"Cyc","v":1.12},{"r":260,"s":"Cyc","v":1.42},{"r":261,"s":"Cyc","v":1.34},{"r":262,"s":"Cyc","v":1.25},{"r":263,"s":"Cyc","v":1.7},{"r":264,"s":"Cyc","v":1.81},{"r":265,"s":"Cyc","v":1.69}
]},
"encoding":{
"x":{"field":"r","type":"quantitative","scale":{"domain":[0,265.5],"nice":false,"zero":false},
"axis":{"values":[0,25,50,75,100,125,150,175,200,225,250],"labelExpr":"datum.value % 50 === 0 ? datum.label : ''","labelOverlap":false,"grid":false,"domainColor":"black","domainWidth":2,"tickColor":"black","tickWidth":2,"tickSize":{"condition":{"test":"datum.value % 50 === 0","value":7},"value":4},"labelFontSize":16,"labelFontWeight":"bold","labelColor":"black","labelPadding":3,"labelFlush":false,"title":"Residues","titleFontSize":18,"titleFontWeight":"bold","titleColor":"black","titleX":396,"titleY":47,"titleBaseline":"bottom","titleAlign":"center"}},
"y":{"field":"v","type":"quantitative","scale":{"domain":[0,4.5],"nice":false},
"axis":{"values":[0,0.25,0.5,0.75,1,1.25,1.5,1.75,2,2.25,2.5,2.75,3,3.25,3.5,3.75,4,4.25,4.5],"labelExpr":"(datum.value * 4) % 2 === 0 ? format(datum.value, '.1f') : ''","labelOverlap":false,"grid":false,"domainColor":"black","domainWidth":2,"tickColor":"black","tickWidth":2,"tickSize":{"condition":{"test":"(datum.value * 4) % 2 === 0","value":7},"value":4},"labelFontSize":16,"labelFontWeight":"bold","labelColor":"black","labelPadding":4,"labelFlush":false,"title":"RMSF(Å)","titleFontSize":18,"titleFontWeight":"bold","titleColor":"black","titleX":-47,"titleY":153,"titleAngle":-90,"titleBaseline":"middle","titleAlign":"center"}},
"color":{"field":"s","type":"nominal","scale":{"domain":["Sit","Cyc","Apo"],"range":["#b19c7a","#4b6eae","#d8cebc"]},
"legend":{"title":null,"orient":"none","legendX":688,"legendY":0,"padding":0,"symbolType":"M-2.6,0H2.6","symbolSize":256,"symbolStrokeWidth":4,"symbolFillColor":"transparent","labelOffset":15,"labelFontSize":17,"labelFontWeight":"bold","labelColor":"black","rowPadding":3}}},
"layer":[
{"transform":[{"filter":"datum.s === 'Apo'"}],"mark":{"type":"line","strokeWidth":2,"clip":true,"strokeJoin":"round"}},
{"transform":[{"filter":"datum.s === 'Sit'"}],"mark":{"type":"line","strokeWidth":2,"clip":true,"strokeJoin":"round"}},
{"transform":[{"filter":"datum.s === 'Cyc'"}],"mark":{"type":"line","strokeWidth":2,"clip":true,"strokeJoin":"round"}}
]}
